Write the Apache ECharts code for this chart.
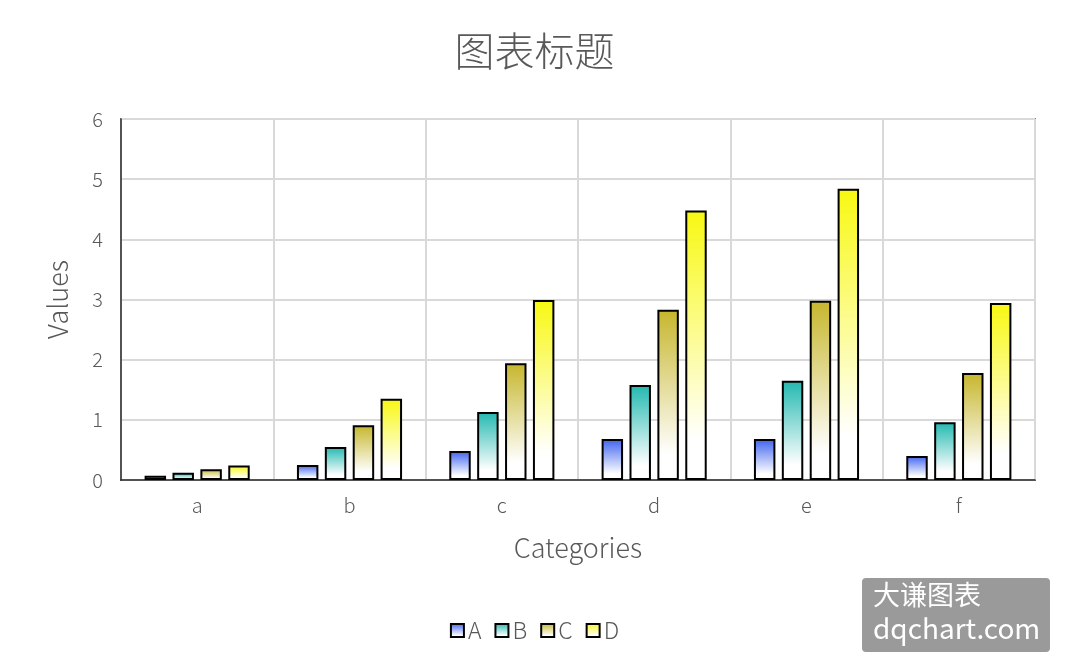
<!DOCTYPE html>
<html>
<head>
<meta charset="utf-8">
<script src="https://cdn.jsdelivr.net/npm/echarts@6/dist/echarts.min.js"></script>
<style>
  html, body { margin: 0; padding: 0; background: #fff; }
  #main { width: 1069px; height: 672px; }
</style>
</head>
<body>
<div id="main"></div>
<script>
const categories = ['a', 'b', 'c', 'd', 'e', 'f'];
const seriesNames = ['A', 'B', 'C', 'D'];
const valuesA = [0.07, 0.25, 0.48, 0.68, 0.68, 0.40];
const valuesB = [0.12, 0.55, 1.13, 1.58, 1.65, 0.96];
const valuesC = [0.18, 0.91, 1.94, 2.83, 2.98, 1.78];
const valuesD = [0.24, 1.35, 2.99, 4.48, 4.84, 2.94];
const topColors = ['#3f63ee', '#22b8b0', '#c6b62c', '#f8f812'];

const font = '"Noto Sans CJK SC", "Microsoft YaHei", sans-serif';
const textColor = '#595959';
const light = 300;

var chartDom = document.getElementById('main');
var myChart = echarts.init(chartDom);

// vertical gradient: strong colour on top, fading to white toward the base
const fill = (c) => new echarts.graphic.LinearGradient(0, 0, 0, 1, [
  { offset: 0, color: c },
  { offset: 0.85, color: '#ffffff' },
  { offset: 1, color: '#ffffff' }
]);

const allValues = [valuesA, valuesB, valuesC, valuesD];

var option = {
  animation: false,
  title: {
    text: '图表标题',
    left: 'center',
    top: 26,
    textStyle: { fontFamily: font, fontSize: 40, fontWeight: light, color: textColor }
  },
  grid: {
    left: 121, right: 34, top: 119, bottom: 192,
    show: true, borderColor: '#262626', borderWidth: 1.5
  },
  legend: {
    data: seriesNames,
    bottom: 25,
    left: 'center',
    icon: 'rect',
    itemWidth: 13,
    itemHeight: 13,
    itemGap: 13,
    textStyle: { fontFamily: font, fontSize: 23, fontWeight: light, color: textColor, padding: [0, 0, 0, -1] }
  },
  xAxis: {
    type: 'category',
    data: categories,
    name: 'Categories',
    nameLocation: 'middle',
    nameGap: 54,
    nameTextStyle: { fontFamily: font, fontSize: 27, fontWeight: light, color: textColor },
    axisTick: { show: false },
    axisLine: { lineStyle: { color: '#262626', width: 1.5 } },
    axisLabel: { fontFamily: font, fontSize: 20, fontWeight: light, color: textColor, margin: 15 },
    splitLine: { show: true, lineStyle: { color: '#d9d9d9', width: 2 } }
  },
  yAxis: {
    type: 'value',
    min: 0, max: 6, interval: 1,
    name: 'Values',
    nameLocation: 'middle',
    nameGap: 50,
    nameTextStyle: { fontFamily: font, fontSize: 27, fontWeight: light, color: textColor },
    axisLine: { show: true, lineStyle: { color: '#262626', width: 1.5 } },
    axisTick: { show: false },
    axisLabel: { fontFamily: font, fontSize: 20, fontWeight: light, color: textColor, margin: 18 },
    splitLine: { lineStyle: { color: '#d9d9d9', width: 2 } }
  },
  series: seriesNames.map((n, i) => ({
    name: n,
    type: 'bar',
    data: allValues[i],
    barGap: '30%',
    barCategoryGap: '31%',
    itemStyle: { color: fill(topColors[i]), borderColor: '#000', borderWidth: 2 }
  })),
  graphic: [{
    type: 'group',
    left: 862, top: 578,
    children: [
      { type: 'rect', shape: { x: 0, y: 0, width: 188, height: 74, r: 4 }, style: { fill: '#9a9a9a' } },
      { type: 'text', left: 11, top: 3, style: { text: '大谦图表', fill: '#fff', font: '27px ' + font } },
      { type: 'text', left: 11, top: 36, style: { text: 'dqchart.com', fill: '#fff', font: '28px ' + font } }
    ]
  }]
};

option && myChart.setOption(option);
</script>
</body>
</html>
